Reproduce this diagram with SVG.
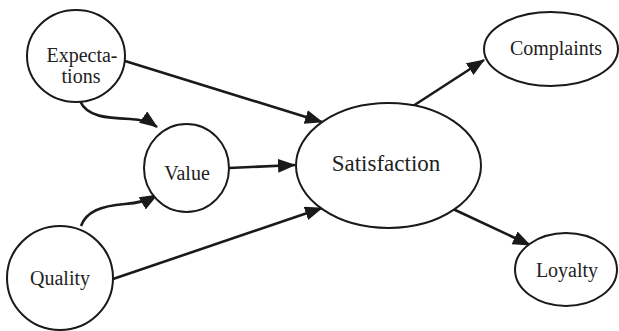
<svg xmlns="http://www.w3.org/2000/svg" width="619" height="331" viewBox="0 0 619 331">
<style>
.node{fill:#fff;stroke:#1a1a1a;stroke-width:2}
.lbl{font-family:"Liberation Serif","Times New Roman",serif;font-size:20px;fill:#222;text-anchor:middle}
.big{font-size:23px}
.edge{fill:none;stroke:#1a1a1a;stroke-width:2.6}
.head{fill:#1a1a1a}
</style>
<defs>
<marker id="ah" markerUnits="userSpaceOnUse" markerWidth="20" markerHeight="16" refX="17" refY="7" orient="auto">
<path class="head" d="M0,0 L18,7 L0,14 z"/>
</marker>
</defs>
<rect width="619" height="331" fill="#fff"/>
<g id="connectors">
<path class="edge" d="M125,61 L322,122" marker-end="url(#ah)"/>
<path class="edge" d="M229,168 L295,165" marker-end="url(#ah)"/>
<path class="edge" d="M113,279 L322,208" marker-end="url(#ah)"/>
<path class="edge" d="M80,101 C87,117 107,118 130,119 C142,119.5 150,122 157,127" marker-end="url(#ah)"/>
<path class="edge" d="M81,226 C86,212 100,206 125,204 C140,203 150,199 157,195" marker-end="url(#ah)"/>
<path class="edge" d="M413,106 L484,60" marker-end="url(#ah)"/>
<path class="edge" d="M453,209 L530,245" marker-end="url(#ah)"/>
</g>
<g id="expectations">
<ellipse class="node" cx="76" cy="56" rx="49" ry="46"/>
<text class="lbl" x="82" y="62">Expecta-</text>
<text class="lbl" x="81" y="83">tions</text>
</g>
<g id="value">
<ellipse class="node" cx="186.5" cy="168" rx="42.5" ry="44"/>
<text class="lbl" x="187" y="180">Value</text>
</g>
<g id="quality">
<ellipse class="node" cx="60" cy="278" rx="53" ry="52"/>
<text class="lbl" x="60" y="285">Quality</text>
</g>
<g id="satisfaction">
<ellipse class="node" cx="388.5" cy="165.5" rx="92.5" ry="62.5"/>
<text class="lbl big" x="386" y="171">Satisfaction</text>
</g>
<g id="complaints">
<ellipse class="node" cx="551" cy="49" rx="67" ry="37"/>
<text class="lbl" x="556" y="55">Complaints</text>
</g>
<g id="loyalty">
<ellipse class="node" cx="566" cy="269.5" rx="51" ry="36.5"/>
<text class="lbl" x="567" y="277">Loyalty</text>
</g>
</svg>
